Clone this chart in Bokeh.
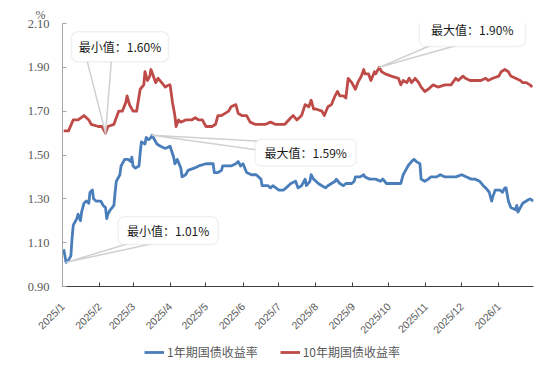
import pandas as pd
import math
from bokeh.plotting import figure
from bokeh.layouts import column
from bokeh.models import (Range1d, FixedTicker, NumeralTickFormatter, Legend, LegendItem,
                          Label, BoxAnnotation, CustomJSTickFormatter)
from bokeh.embed import file_html
from bokeh.resources import INLINE

# ---------------- data ----------------
ten_year_dates = [
    "2025-01-02", "2025-01-06", "2025-01-10", "2025-01-14", "2025-01-19", "2025-01-21", "2025-01-23",
    "2025-01-25", "2025-01-31", "2025-02-03", "2025-02-06", "2025-02-08", "2025-02-13", "2025-02-17",
    "2025-02-20", "2025-02-23", "2025-02-24", "2025-02-26", "2025-03-01", "2025-03-04", "2025-03-07",
    "2025-03-10", "2025-03-11", "2025-03-13", "2025-03-15", "2025-03-16", "2025-03-20", "2025-03-22",
    "2025-03-25", "2025-03-28", "2025-03-31", "2025-04-01", "2025-04-03", "2025-04-05", "2025-04-06",
    "2025-04-08", "2025-04-10", "2025-04-14", "2025-04-16", "2025-04-19", "2025-04-22", "2025-04-25",
    "2025-04-28", "2025-05-01", "2025-05-06", "2025-05-09", "2025-05-11", "2025-05-14", "2025-05-17",
    "2025-05-20", "2025-05-22", "2025-05-26", "2025-05-28", "2025-05-31", "2025-06-04", "2025-06-07",
    "2025-06-11", "2025-06-16", "2025-06-20", "2025-06-24", "2025-06-28", "2025-07-02", "2025-07-06",
    "2025-07-11", "2025-07-13", "2025-07-16", "2025-07-20", "2025-07-23", "2025-07-26", "2025-07-28",
    "2025-07-30", "2025-08-01", "2025-08-06", "2025-08-08", "2025-08-11", "2025-08-14", "2025-08-17",
    "2025-08-19", "2025-08-21", "2025-08-24", "2025-08-26", "2025-08-28", "2025-08-31", "2025-09-03",
    "2025-09-05", "2025-09-08", "2025-09-10", "2025-09-11", "2025-09-14", "2025-09-16", "2025-09-19",
    "2025-09-20", "2025-09-23", "2025-09-25", "2025-09-28", "2025-10-03", "2025-10-09", "2025-10-11",
    "2025-10-13", "2025-10-16", "2025-10-18", "2025-10-20", "2025-10-23", "2025-10-26", "2025-10-28",
    "2025-10-31", "2025-11-03", "2025-11-07", "2025-11-11", "2025-11-17", "2025-11-22", "2025-11-26",
    "2025-11-28", "2025-12-02", "2025-12-04", "2025-12-08", "2025-12-12", "2025-12-17", "2025-12-21",
    "2025-12-23", "2025-12-27", "2026-01-01", "2026-01-03", "2026-01-06", "2026-01-09", "2026-01-11",
    "2026-01-15", "2026-01-19", "2026-01-21", "2026-01-24", "2026-01-27", "2026-01-29",
]
ten_year_yield = [
    1.61, 1.61, 1.66, 1.66, 1.68, 1.67, 1.66, 1.64, 1.63, 1.63, 1.60, 1.63, 1.64, 1.70, 1.70, 1.74,
    1.77, 1.73, 1.70, 1.70, 1.80, 1.82, 1.88, 1.84, 1.86, 1.89, 1.83, 1.85, 1.83, 1.81, 1.82, 1.82,
    1.74, 1.68, 1.63, 1.66, 1.65, 1.66, 1.66, 1.66, 1.67, 1.66, 1.66, 1.63, 1.63, 1.64, 1.68, 1.68,
    1.69, 1.70, 1.72, 1.73, 1.69, 1.68, 1.68, 1.65, 1.64, 1.64, 1.64, 1.65, 1.64, 1.64, 1.64, 1.67,
    1.68, 1.66, 1.68, 1.73, 1.72, 1.75, 1.71, 1.71, 1.70, 1.68, 1.72, 1.73, 1.77, 1.79, 1.77, 1.77,
    1.76, 1.85, 1.83, 1.80, 1.83, 1.86, 1.89, 1.87, 1.87, 1.84, 1.88, 1.87, 1.90, 1.88, 1.87, 1.86,
    1.85, 1.82, 1.84, 1.83, 1.85, 1.83, 1.85, 1.83, 1.81, 1.79, 1.80, 1.82, 1.81, 1.82, 1.82, 1.85,
    1.84, 1.86, 1.85, 1.84, 1.84, 1.84, 1.85, 1.84, 1.85, 1.86, 1.88, 1.89, 1.88, 1.86, 1.85, 1.84,
    1.83, 1.83, 1.82, 1.81,
]

one_year_dates = [
    "2025-01-02", "2025-01-04", "2025-01-06", "2025-01-08", "2025-01-09", "2025-01-10", "2025-01-13",
    "2025-01-14", "2025-01-16", "2025-01-17", "2025-01-19", "2025-01-21", "2025-01-23", "2025-01-24",
    "2025-01-26", "2025-01-27", "2025-01-29", "2025-02-02", "2025-02-04", "2025-02-06", "2025-02-07",
    "2025-02-08", "2025-02-10", "2025-02-13", "2025-02-14", "2025-02-15", "2025-02-18", "2025-02-19",
    "2025-02-22", "2025-02-25", "2025-02-27", "2025-02-28", "2025-03-01", "2025-03-03", "2025-03-06",
    "2025-03-07", "2025-03-08", "2025-03-11", "2025-03-12", "2025-03-14", "2025-03-16", "2025-03-17",
    "2025-03-18", "2025-03-21", "2025-03-24", "2025-03-28", "2025-04-01", "2025-04-04", "2025-04-05",
    "2025-04-07", "2025-04-10", "2025-04-11", "2025-04-14", "2025-04-16", "2025-04-21", "2025-04-25",
    "2025-05-01", "2025-05-05", "2025-05-07", "2025-05-08", "2025-05-11", "2025-05-14", "2025-05-15",
    "2025-05-18", "2025-05-22", "2025-05-26", "2025-05-28", "2025-05-30", "2025-06-01", "2025-06-04",
    "2025-06-08", "2025-06-12", "2025-06-16", "2025-06-17", "2025-06-20", "2025-06-22", "2025-06-24",
    "2025-06-26", "2025-07-01", "2025-07-05", "2025-07-07", "2025-07-11", "2025-07-15", "2025-07-17",
    "2025-07-20", "2025-07-23", "2025-07-24", "2025-07-27", "2025-07-28", "2025-07-30", "2025-08-01",
    "2025-08-03", "2025-08-06", "2025-08-09", "2025-08-11", "2025-08-14", "2025-08-17", "2025-08-18",
    "2025-08-21", "2025-08-24", "2025-08-26", "2025-08-31", "2025-09-02", "2025-09-03", "2025-09-07",
    "2025-09-10", "2025-09-11", "2025-09-15", "2025-09-20", "2025-09-24", "2025-09-26", "2025-09-29",
    "2025-10-03", "2025-10-09", "2025-10-11", "2025-10-13", "2025-10-15", "2025-10-17", "2025-10-20",
    "2025-10-22", "2025-10-24", "2025-10-27", "2025-10-28", "2025-10-31", "2025-11-03", "2025-11-05",
    "2025-11-10", "2025-11-13", "2025-11-17", "2025-11-21", "2025-11-26", "2025-12-01", "2025-12-05",
    "2025-12-09", "2025-12-12", "2025-12-16", "2025-12-19", "2025-12-21", "2025-12-24", "2025-12-26",
    "2025-12-27", "2025-12-29", "2026-01-02", "2026-01-04", "2026-01-06", "2026-01-07", "2026-01-09",
    "2026-01-11", "2026-01-15", "2026-01-16", "2026-01-17", "2026-01-20", "2026-01-21", "2026-01-24",
    "2026-01-27", "2026-01-30",
]
one_year_yield = [
    1.07, 1.01, 1.02, 1.04, 1.12, 1.18, 1.21, 1.23, 1.20, 1.24, 1.28, 1.29, 1.28, 1.33, 1.34, 1.30,
    1.29, 1.29, 1.27, 1.26, 1.21, 1.23, 1.25, 1.27, 1.33, 1.38, 1.41, 1.45, 1.48, 1.48, 1.47, 1.49,
    1.45, 1.44, 1.45, 1.51, 1.56, 1.55, 1.58, 1.57, 1.58, 1.59, 1.58, 1.55, 1.54, 1.53, 1.54, 1.49,
    1.46, 1.48, 1.44, 1.40, 1.41, 1.43, 1.44, 1.45, 1.46, 1.46, 1.46, 1.42, 1.42, 1.43, 1.45, 1.45,
    1.45, 1.46, 1.47, 1.45, 1.46, 1.42, 1.41, 1.41, 1.39, 1.36, 1.36, 1.36, 1.35, 1.36, 1.34, 1.34,
    1.35, 1.37, 1.38, 1.35, 1.36, 1.39, 1.36, 1.38, 1.41, 1.39, 1.38, 1.37, 1.36, 1.35, 1.36, 1.37,
    1.38, 1.39, 1.37, 1.36, 1.37, 1.37, 1.38, 1.40, 1.40, 1.41, 1.40, 1.39, 1.39, 1.38, 1.39, 1.37,
    1.37, 1.37, 1.37, 1.41, 1.43, 1.45, 1.47, 1.48, 1.47, 1.46, 1.39, 1.38, 1.39, 1.40, 1.40, 1.41,
    1.40, 1.40, 1.40, 1.41, 1.40, 1.39, 1.39, 1.38, 1.36, 1.35, 1.33, 1.29, 1.31, 1.34, 1.34, 1.33,
    1.35, 1.35, 1.29, 1.26, 1.25, 1.27, 1.24, 1.27, 1.28, 1.29, 1.30, 1.29,
]

series_names = ["1年期国债收益率", "10年期国债收益率"]
month_ticks = ["2025-01-01", "2025-02-01", "2025-03-01", "2025-04-01", "2025-05-01", "2025-06-01",
               "2025-07-01", "2025-08-01", "2025-09-01", "2025-10-01", "2025-11-01", "2025-12-01",
               "2026-01-01"]
y_ticks = [0.90, 1.10, 1.30, 1.50, 1.70, 1.90, 2.10]
x_start, x_end = "2025-01-01", "2026-01-30"

# ---------------- layout ----------------
ML, MR, MT = 62, 7, 23
FW, FH = 471, 265
MB = 54
W = ML + FW + MR
H = MT + FH + MB
LEG_H = 26

xs0, xs1 = pd.Timestamp(x_start), pd.Timestamp(x_end)
y0, y1 = y_ticks[0], y_ticks[-1]
ms_per_px = (xs1 - xs0).total_seconds() * 1000 / FW
val_per_px = (y1 - y0) / FH

p = figure(width=W, height=H, x_axis_type="datetime",
           x_range=Range1d(xs0, xs1), y_range=Range1d(y0, y1),
           output_backend="svg", toolbar_location=None,
           min_border_left=ML, min_border_right=MR, min_border_top=MT, min_border_bottom=MB)
p.outline_line_color = None
p.xgrid.visible = False
p.ygrid.visible = False

# unit label "%" as a left-aligned title
p.title.text = "%"
p.title.align = "left"
p.title.offset = -27
p.title.standoff = 4
p.title.text_font = "Liberation Serif"
p.title.text_font_size = "12px"
p.title.text_font_style = "normal"
p.title.text_color = "#595959"

BLUE = "#4A7EBB"
RED = "#BE4B48"
LW = 2.8
one_x = pd.to_datetime(one_year_dates)
ten_x = pd.to_datetime(ten_year_dates)
r1 = p.line(one_x, one_year_yield, line_color=BLUE, line_width=LW, line_join="round")
r2 = p.line(ten_x, ten_year_yield, line_color=RED, line_width=LW, line_join="round")

# axes
xa = p.xaxis[0]
xa.ticker = FixedTicker(ticks=[pd.Timestamp(t).timestamp() * 1000 for t in month_ticks])
xa.formatter = CustomJSTickFormatter(code="""
    const d = new Date(tick);
    return d.getUTCFullYear() + "/" + (d.getUTCMonth() + 1);
""")
xa.major_label_orientation = math.pi / 4
xa.major_label_text_font = "Liberation Sans"
xa.major_label_text_font_size = "10.5px"
xa.major_label_text_color = "#595959"
xa.axis_line_color = "#404040"
xa.major_tick_line_color = "#404040"
xa.major_tick_in = 4
xa.major_tick_out = 0
xa.minor_tick_line_color = None
xa.major_label_standoff = 18

ya = p.yaxis[0]
ya.ticker = FixedTicker(ticks=y_ticks)
ya.formatter = NumeralTickFormatter(format="0.00")
ya.major_label_text_font = "Liberation Serif"
ya.major_label_text_font_size = "12.5px"
ya.major_label_text_color = "#595959"
ya.axis_line_color = "#a6a6a6"
ya.major_tick_line_color = "#a6a6a6"
ya.major_tick_in = 4
ya.major_tick_out = 0
ya.minor_tick_line_color = None
ya.major_label_standoff = 13

# callouts
def px_to_data(ax, ay, dx, dy):
    return (ax + pd.Timedelta(milliseconds=dx * ms_per_px), ay - dy * val_per_px)

def callout(dates, vals, kind, label, box, wedge):
    idx = vals.index(min(vals)) if kind == "min" else vals.index(max(vals))
    ax, ay = pd.Timestamp(dates[idx]), vals[idx]
    (b1x, b1y), (b2x, b2y) = [px_to_data(ax, ay, *w) for w in wedge]
    p.patch([ax, b1x, b2x], [ay, b1y, b2y], fill_color="white", line_color="#d0d0d0",
            line_width=1.5, line_join="round")
    lx, ty = px_to_data(ax, ay, box[0], box[2])
    rx, by = px_to_data(ax, ay, box[1], box[3])
    p.add_layout(BoxAnnotation(left=lx, right=rx, top=ty, bottom=by, fill_color="white",
                               fill_alpha=1, line_color="#d0d0d0", line_width=1.5,
                               border_radius=6, level="annotation"))
    cx, cy = px_to_data(ax, ay, (box[0] + box[1]) / 2, (box[2] + box[3]) / 2)
    p.add_layout(Label(x=cx, y=cy, text=f"{label}：{vals[idx]:.2f}%", text_font="Noto Sans CJK SC",
                       text_font_size="12px", text_color="#1a1a1a", text_align="center",
                       text_baseline="middle"))

callout(ten_year_dates, ten_year_yield, "min", "最小值", (-34, 63, -102, -72), [(-19, -75), (6, -75)])
callout(ten_year_dates, ten_year_yield, "max", "最大值", (40, 146, -55, -21), [(56, -24), (84, -24)])
callout(one_year_dates, one_year_yield, "max", "最大值", (103, 204, 4, 31), [(106, 6), (106, 15)])
callout(one_year_dates, one_year_yield, "min", "最小值", (52, 152, -46, -18), [(69, -21), (96, -21)])

# legend in its own strip below the chart (frames are aligned with the chart above)
lf = figure(width=W, height=LEG_H, x_range=Range1d(0, 1), y_range=Range1d(0, 1),
            output_backend="svg", toolbar_location=None, min_border=0,
            x_axis_location=None, y_axis_location=None)
lf.outline_line_color = None
lf.xgrid.visible = False
lf.ygrid.visible = False
# sample renderers carry the series but fall outside this strip's ranges; only their legend swatches show
s1 = lf.line(one_x, one_year_yield, line_color=BLUE, line_width=LW)
s2 = lf.line(ten_x, ten_year_yield, line_color=RED, line_width=LW)
legend = Legend(items=[LegendItem(label=series_names[0], renderers=[s1]),
                       LegendItem(label=series_names[1], renderers=[s2])],
                orientation="horizontal", location=(82, 8),
                label_text_font="Noto Sans CJK SC", label_text_font_size="12px",
                label_text_color="#595959", glyph_width=20, glyph_height=12,
                label_standoff=3, spacing=22, padding=0, margin=0,
                border_line_color=None, background_fill_alpha=0)
lf.add_layout(legend)

open("out.html", "w").write(file_html(column(p, lf, spacing=0), INLINE))
